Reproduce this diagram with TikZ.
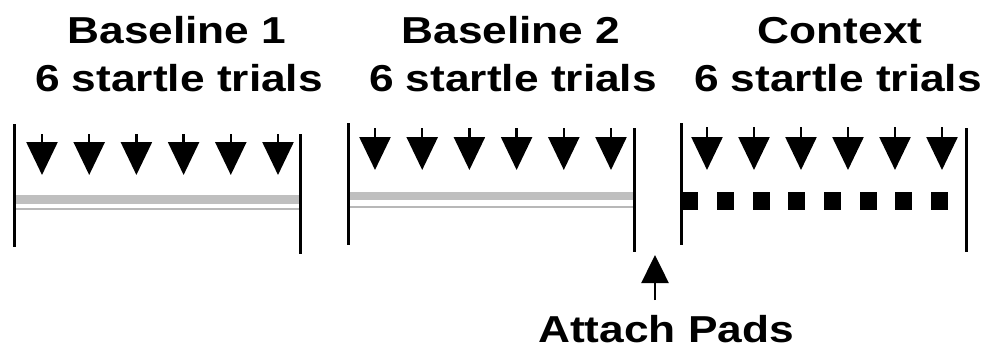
\documentclass[tikz,border=0pt]{standalone}
\usepackage{fontspec}
\setmainfont{Liberation Sans}[FakeStretch=1.18]
\usetikzlibrary{arrows.meta}
\begin{document}
\begin{tikzpicture}[x=1pt,y=-1pt,
  title/.style={font=\fontsize{37.5}{40}\selectfont\bfseries, anchor=base, inner sep=0pt},
  rail/.style={line width=3pt},
  stim/.style={line width=2.5pt, -{Triangle[width=31pt,length=33pt]}},
  padarrow/.style={line width=2.5pt, -{Triangle[width=27pt,length=28pt]}},
  band/.style={fill=black!25, draw=none},
  thinband/.style={draw=black!28, line width=2pt},
  pad/.style={fill=black}]
\useasboundingbox (0,0) rectangle (987,356);
\fill[white] (0,0) rectangle (987,356);

% titles
\node[title] (t1) at (177,43) {Baseline 1};
\node[title] (n1) at (179,91) {6 startle trials};
\node[title] (t2) at (511,43) {Baseline 2};
\node[title] (n2) at (513,91) {6 startle trials};
\node[title] (t3) at (840,43) {Context};
\node[title] (n3) at (838,91) {6 startle trials};

% panel 1
\fill[band] (14,195) rectangle (300,204);
\draw[thinband] (14,209) -- (300,209);
\draw[rail] (14,124) -- (14,247);
\draw[rail] (300,134) -- (300,254);
\foreach \i in {0,...,5} {
  \coordinate (a1s\i) at ({42+47.2*\i},134);
  \coordinate (a1e\i) at ({42+47.2*\i},175);
  \draw[stim] (a1s\i) -- (a1e\i);
}

% panel 2
\fill[band] (348,192) rectangle (634,200);
\draw[thinband] (348,207) -- (634,207);
\draw[rail] (348,123) -- (348,245);
\draw[rail] (634,128) -- (634,252);
\foreach \i in {0,...,5} {
  \coordinate (a2s\i) at ({375+47.2*\i},128);
  \coordinate (a2e\i) at ({375+47.2*\i},170);
  \draw[stim] (a2s\i) -- (a2e\i);
}

% panel 3
\draw[rail] (681,123) -- (681,245);
\draw[rail] (966,128) -- (966,252);
\fill[pad] (681,192) rectangle (698,210);
\foreach \i in {1,...,7} {
  \fill[pad] ({690+35.6*\i-8.5},192) rectangle ({690+35.6*\i+8.5},210);
}
\foreach \i in {0,...,5} {
  \coordinate (a3s\i) at ({707+47*\i},127);
  \coordinate (a3e\i) at ({707+47*\i},170);
  \draw[stim] (a3s\i) -- (a3e\i);
}

% attach pads
\node[title] (pads) at (666,342) {Attach Pads};
\coordinate (padbase) at (655,300);
\coordinate (padtip) at (655,255);
\draw[padarrow] (padbase) -- (padtip);
\end{tikzpicture}
\end{document}
